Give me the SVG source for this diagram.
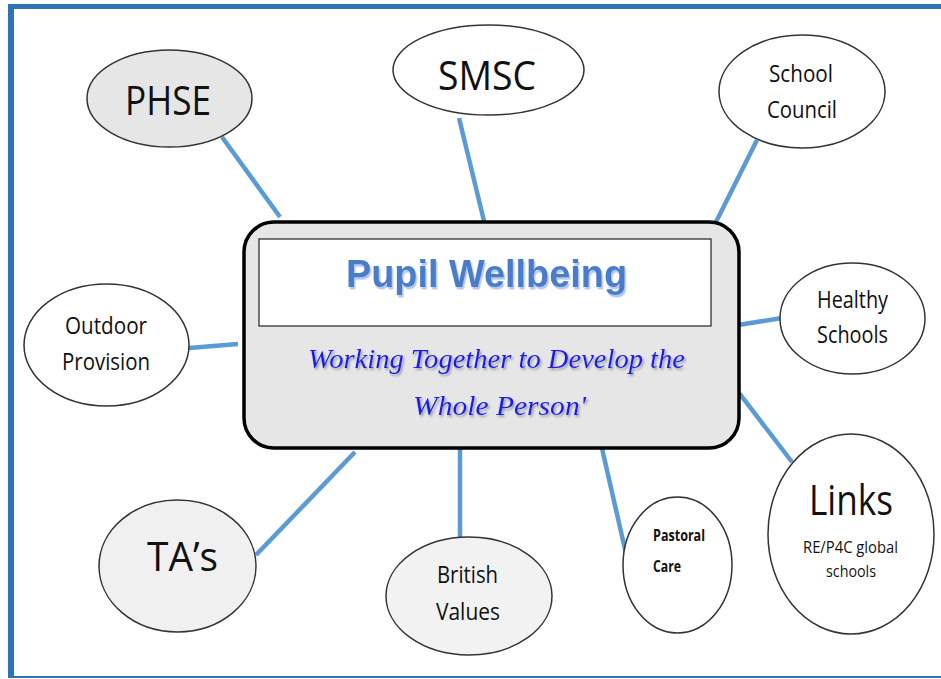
<svg xmlns="http://www.w3.org/2000/svg" width="941" height="679" viewBox="0 0 941 679">
<style>
.n{stroke:#333;stroke-width:1.5}
.w{fill:#fff}
.t{font-family:"Open Sans","Liberation Sans",sans-serif;fill:#111;text-anchor:middle}
.c{stroke:#5b9bd5;stroke-width:4.5;fill:none}
</style>
<defs>
<filter id="sh1" x="-10%" y="-30%" width="120%" height="160%">
<feDropShadow dx="1.5" dy="2.5" stdDeviation="0.6" flood-color="#b4c8ec" flood-opacity="1"/>
</filter>
<filter id="sh2" x="-10%" y="-30%" width="120%" height="160%">
<feDropShadow dx="1.5" dy="2" stdDeviation="0.8" flood-color="#8a90a8" flood-opacity="0.9"/>
</filter>
</defs>
<rect width="941" height="679" fill="#fff"/>
<g id="frame">
<rect x="8" y="4" width="933" height="5" fill="#2e74b5"/>
<rect x="8" y="4" width="6" height="674" fill="#2e74b5"/>
<rect x="8" y="676" width="933" height="2" fill="#2e74b5"/>
</g>
<g id="connectors">
<line class="c" x1="222" y1="137" x2="280" y2="217"/>
<line class="c" x1="459" y1="118" x2="484" y2="221"/>
<line class="c" x1="757" y1="140" x2="716" y2="222"/>
<line class="c" x1="738" y1="325" x2="782" y2="318"/>
<line class="c" x1="733" y1="385" x2="792" y2="462"/>
<line class="c" x1="601" y1="444" x2="627" y2="558"/>
<line class="c" x1="460" y1="443" x2="460" y2="541"/>
<line class="c" x1="355" y1="452" x2="256" y2="555"/>
<line class="c" x1="189" y1="348" x2="238" y2="344"/>
</g>
<g id="center">
<rect x="244" y="222" width="495" height="226" rx="30" ry="30" fill="#e6e6e6" stroke="#000" stroke-width="3.5"/>
<rect x="259" y="239" width="452" height="87" fill="#fff" stroke="#222" stroke-width="1.2"/>
<text x="486.5" y="287" filter="url(#sh1)" font-family="'Liberation Sans',sans-serif" font-weight="bold" font-size="38" text-anchor="middle" fill="#4a7ccb" textLength="281" lengthAdjust="spacingAndGlyphs">Pupil Wellbeing</text>
<g font-family="'Liberation Serif',serif" font-style="italic" font-size="27" text-anchor="middle" fill="#1c1ce0" filter="url(#sh2)">
<text x="496.5" y="368" textLength="377" lengthAdjust="spacingAndGlyphs">Working Together to Develop the</text>
<text x="499.5" y="415" textLength="173" lengthAdjust="spacingAndGlyphs">Whole Person'</text>
</g>
</g>
<g id="phse">
<ellipse class="n" cx="169.5" cy="98.5" rx="82.5" ry="48.5" fill="#e6e6e6"/>
<text class="t" x="168" y="115" font-size="40" textLength="86" lengthAdjust="spacingAndGlyphs">PHSE</text>
</g>
<g id="smsc">
<ellipse class="n w" cx="488.5" cy="70" rx="95.5" ry="45"/>
<text class="t" x="487" y="90" font-size="40" textLength="98" lengthAdjust="spacingAndGlyphs">SMSC</text>
</g>
<g id="school-council">
<ellipse class="n w" cx="802" cy="91.5" rx="83" ry="56.5"/>
<text class="t" x="801" y="82" font-size="24" textLength="64" lengthAdjust="spacingAndGlyphs">School</text>
<text class="t" x="802" y="118" font-size="24" textLength="70" lengthAdjust="spacingAndGlyphs">Council</text>
</g>
<g id="healthy-schools">
<ellipse class="n w" cx="852.5" cy="318.5" rx="72.5" ry="55.5"/>
<text class="t" x="852.5" y="308" font-size="24" textLength="71" lengthAdjust="spacingAndGlyphs">Healthy</text>
<text class="t" x="852.5" y="343" font-size="24" textLength="71" lengthAdjust="spacingAndGlyphs">Schools</text>
</g>
<g id="links">
<ellipse class="n w" cx="851" cy="534" rx="83" ry="100"/>
<text class="t" x="851" y="515" font-size="42" textLength="84" lengthAdjust="spacingAndGlyphs">Links</text>
<text class="t" x="850.5" y="553" font-size="16" textLength="95" lengthAdjust="spacingAndGlyphs">RE/P4C global</text>
<text class="t" x="851" y="577" font-size="16" textLength="50" lengthAdjust="spacingAndGlyphs">schools</text>
</g>
<g id="pastoral-care">
<ellipse class="n w" cx="677.5" cy="565" rx="54.5" ry="68"/>
<text x="653" y="541" font-family="'Open Sans','Liberation Sans',sans-serif" font-weight="bold" font-size="16" fill="#111" textLength="52" lengthAdjust="spacingAndGlyphs">Pastoral</text>
<text x="653" y="572" font-family="'Open Sans','Liberation Sans',sans-serif" font-weight="bold" font-size="16" fill="#111" textLength="28" lengthAdjust="spacingAndGlyphs">Care</text>
</g>
<g id="british-values">
<ellipse class="n" cx="469" cy="596" rx="83" ry="59" fill="#f2f2f2"/>
<text class="t" x="467.5" y="583" font-size="24" textLength="61" lengthAdjust="spacingAndGlyphs">British</text>
<text class="t" x="468" y="620" font-size="24" textLength="64" lengthAdjust="spacingAndGlyphs">Values</text>
</g>
<g id="tas">
<ellipse class="n" cx="177.5" cy="566" rx="78.5" ry="66" fill="#f0f0f0"/>
<text class="t" x="182.5" y="571" font-size="40" textLength="71" lengthAdjust="spacingAndGlyphs">TA’s</text>
</g>
<g id="outdoor-provision">
<ellipse class="n w" cx="106.5" cy="345" rx="82.5" ry="61"/>
<text class="t" x="106" y="334" font-size="24" textLength="82" lengthAdjust="spacingAndGlyphs">Outdoor</text>
<text class="t" x="106" y="370" font-size="24" textLength="88" lengthAdjust="spacingAndGlyphs">Provision</text>
</g>
</svg>
